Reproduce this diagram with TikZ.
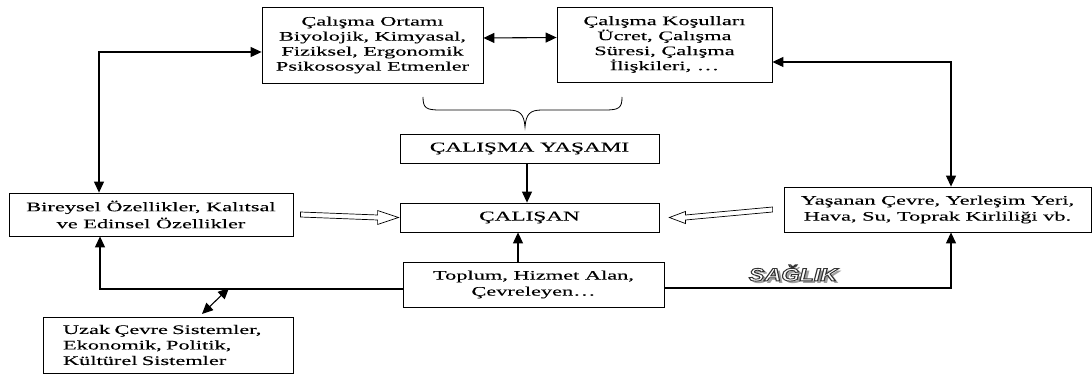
\documentclass[tikz,border=0pt]{standalone}
\usepackage{fontspec}
\setmainfont{Liberation Serif}[FakeStretch=1.72,FakeBold=0.15]
\newfontfamily\sagfont{Liberation Sans}
\usetikzlibrary{arrows.meta,calc}
\begin{document}
\begin{tikzpicture}[x=1pt,y=-1pt,
  box/.style={draw,line width=0.8pt,align=center,inner sep=2pt,
    font=\fontsize{13}{15}\selectfont},
  conn/.style={line width=1.1pt,-{Triangle[length=11pt,width=10pt]}},
  dconn/.style={line width=1.1pt,{Triangle[length=11pt,width=10pt]}-{Triangle[length=11pt,width=10pt]}},
  hollow/.style={draw,line width=0.7pt,fill=white},
  bracestyle/.style={line width=0.8pt}]
\useasboundingbox (0,0) rectangle (1092,374);

\node[box,minimum width=221pt,minimum height=76pt] (ort) at (372.5,45)
  {Çalışma Ortamı\\Biyolojik, Kimyasal,\\Fiziksel, Ergonomik\\Psikososyal Etmenler};
\node[box,minimum width=215pt,minimum height=75pt] (kos) at (664.5,44.5)
  {Çalışma Koşulları\\Ücret, Çalışma\\Süresi, Çalışma\\İlişkileri, \dots};
\node[box,minimum width=259pt,minimum height=29pt,font=\fontsize{13.5}{15}\selectfont] (yas) at (529.5,148.5)
  {ÇALIŞMA YAŞAMI};
\node[box,minimum width=259pt,minimum height=29pt,font=\fontsize{13.5}{15}\selectfont] (cal) at (529.5,217.5)
  {ÇALIŞAN};
\node[box,minimum width=261pt,minimum height=45pt,font=\fontsize{13}{16}\selectfont] (top) at (533.5,284.5)
  {Toplum, Hizmet Alan,\\Çevreleyen\dots};
\node[box,minimum width=284pt,minimum height=43pt,font=\fontsize{13}{17}\selectfont] (bir) at (151,214.5)
  {Bireysel Özellikler, Kalıtsal\\ve Edinsel Özellikler};
\node[box,minimum width=307pt,minimum height=45pt,font=\fontsize{13}{16}\selectfont] (yasc) at (937.5,209.5)
  {Yaşanan Çevre, Yerleşim Yeri,\\Hava, Su, Toprak Kirliliği vb.};
\node[box,minimum width=250pt,minimum height=56pt,align=left,inner xsep=20pt,text width=210pt,
  font=\fontsize{13}{15.5}\selectfont] (uzak) at (168,345)
  {Uzak Çevre Sistemler,\\Ekonomik, Politik,\\Kültürel Sistemler};

% brace
\draw[bracestyle] (423,97) .. controls (423,108) and (426,110) .. (440,110)
  -- (508,110) .. controls (520,110) and (524,114) .. (525,127)
  .. controls (526,114) and (530,110) .. (542,110)
  -- (605,110) .. controls (619,110) and (622,108) .. (622,97);

% connectors
\draw[dconn] ([yshift=7pt]ort.east) -- ([yshift=7pt]kos.west);
\coordinate (lc) at (99,52);
\draw[dconn] (bir.north -| lc) -- (lc) -- (lc -| ort.west);
\coordinate (rc) at (951,62);
\draw[dconn] (kos.east |- rc) -- (rc) -- (rc |- yasc.north);
\draw[conn] (yas.south -| 527,0) -- (cal.north -| 527,0);
\draw[conn] (top.north -| 518,0) -- (cal.south -| 518,0);
\coordinate (bl) at (100,289);
\draw[conn] (top.west |- bl) -- (bl) -- (bir.south -| bl);
\coordinate (br) at (951,288);
\draw[conn] (top.east |- br) -- (br) -- (br |- yasc.south);
\coordinate (d1) at (229,288);
\coordinate (d2) at (202,314);
\draw[dconn] (d1) -- (d2);

% hollow arrows
\path[hollow] ($(bir.east)+(7,-2.5)$) -- ($(cal.west)+(-22,-2.5)$) -- ($(cal.west)+(-22,-7)$)
  -- ($(cal.west)+(-1,0)$) -- ($(cal.west)+(-22,7)$) -- ($(cal.west)+(-22,2.5)$)
  -- ($(bir.east)+(7,2.5)$) -- cycle;
\path[hollow] ($(yasc.west)+(-11,-2.5)$) -- ($(cal.east)+(26,-2.5)$) -- ($(cal.east)+(26,-6)$)
  -- ($(cal.east)+(10,0)$) -- ($(cal.east)+(26,6)$) -- ($(cal.east)+(26,2.5)$)
  -- ($(yasc.west)+(-11,2.5)$) -- cycle;

% SAGLIK
\begin{scope}[every node/.style={font=\sagfont\bfseries\itshape\fontsize{18}{18}\selectfont,xscale=1.3,inner sep=0pt}]
\node[text=gray!75] (sagsh) at (796,276) {SAĞLIK};
\node[text=white] (sag) at (793,273)
  {\special{pdf:literal direct 2 Tr 0.9 w 0.2 0.2 0.2 RG}SAĞLIK\special{pdf:literal direct 0 Tr}};
\end{scope}
\end{tikzpicture}
\end{document}
